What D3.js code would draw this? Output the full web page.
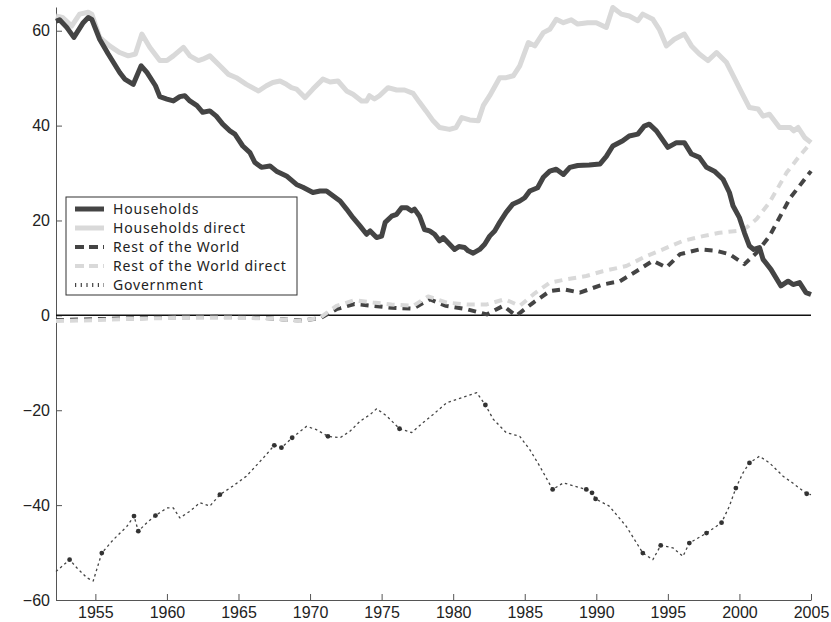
<!DOCTYPE html>
<html>
<head>
<meta charset="utf-8">
<script src="https://cdn.jsdelivr.net/npm/d3@7"></script>
<style>
  body { margin: 0; background: #fff; }
  svg { font-family: "Noto Sans", sans-serif; }
  .axis path, .axis line { stroke: #555; }
  .axis text { font-size: 16px; fill: #222; }
  .legend text { font-size: 14px; fill: #222; letter-spacing: 0.8px; }
</style>
</head>
<body>
<svg id="chart" width="831" height="622"></svg>
<script>
// series as [year, value] pairs
const households = [
  [1952.25, 62.0], [1952.5, 62.3], [1953.0, 60.7], [1953.5, 58.6], [1954.15, 61.7], [1954.5, 62.8],
  [1954.75, 62.4], [1955.3, 58.2], [1955.9, 55.1], [1956.7, 51.2], [1957.05, 49.8], [1957.65, 48.7],
  [1958.2, 52.6], [1958.6, 51.2], [1959.2, 48.4], [1959.5, 46.1], [1960.0, 45.6], [1960.45, 45.2],
  [1960.9, 46.1], [1961.25, 46.3], [1961.6, 45.2], [1962.1, 44.2], [1962.5, 42.8], [1963.0, 43.1],
  [1963.45, 42.0], [1963.9, 40.3], [1964.4, 38.9], [1964.75, 38.2], [1965.3, 35.7], [1965.8, 34.3],
  [1966.15, 32.2], [1966.6, 31.2], [1967.2, 31.5], [1967.65, 30.4], [1968.35, 29.4], [1969.05, 27.6],
  [1969.5, 27.0], [1970.2, 25.9], [1970.7, 26.2], [1971.15, 26.2], [1971.6, 25.2], [1972.1, 24.1],
  [1972.55, 22.4], [1973.0, 20.6], [1973.5, 18.8], [1973.95, 17.1], [1974.2, 17.8], [1974.65, 16.4],
  [1975.0, 16.7], [1975.25, 19.6], [1975.7, 20.9], [1976.05, 21.3], [1976.4, 22.7], [1976.75, 22.7],
  [1977.1, 22.0], [1977.3, 22.4], [1977.65, 20.9], [1978.0, 18.1], [1978.35, 17.8], [1978.7, 17.1],
  [1979.05, 15.7], [1979.3, 16.4], [1979.65, 15.3], [1980.1, 13.9], [1980.4, 14.5], [1980.8, 14.3],
  [1981.05, 13.6], [1981.4, 13.1], [1981.85, 13.9], [1982.2, 15.0], [1982.55, 16.7], [1982.9, 17.8],
  [1983.25, 19.6], [1983.7, 21.7], [1984.15, 23.4], [1984.65, 24.1], [1985.0, 24.8], [1985.35, 26.2],
  [1985.9, 26.9], [1986.3, 29.1], [1986.75, 30.4], [1987.2, 30.8], [1987.7, 29.7], [1988.15, 31.2],
  [1988.7, 31.6], [1989.5, 31.7], [1990.25, 31.9], [1990.7, 33.5], [1991.15, 35.7], [1991.85, 36.8],
  [1992.3, 37.8], [1992.9, 38.2], [1993.35, 39.9], [1993.7, 40.3], [1994.2, 38.9], [1995.0, 35.4],
  [1995.6, 36.4], [1996.15, 36.4], [1996.65, 34.0], [1997.2, 33.3], [1997.7, 31.2], [1998.25, 30.4],
  [1998.85, 28.7], [1999.3, 25.9], [1999.55, 23.1], [2000.0, 20.6], [2000.35, 17.4], [2000.7, 14.6],
  [2001.0, 13.9], [2001.4, 14.3], [2001.65, 11.8], [2002.2, 9.7], [2002.9, 6.2], [2003.4, 7.2],
  [2003.75, 6.5], [2004.2, 6.9], [2004.65, 4.8], [2005.0, 4.4]
];

const householdsDirect = [
  [1952.25, 63.1], [1952.7, 62.8], [1953.35, 61.0], [1953.9, 63.5], [1954.5, 63.9], [1954.75, 63.5],
  [1955.3, 58.6], [1956.0, 56.8], [1956.7, 55.4], [1957.3, 54.7], [1957.8, 55.1], [1958.25, 59.3],
  [1958.8, 56.5], [1959.5, 53.7], [1960.0, 53.7], [1960.45, 54.7], [1961.15, 56.5], [1961.6, 54.7],
  [1962.2, 53.7], [1962.5, 54.0], [1963.0, 54.7], [1963.7, 52.6], [1964.3, 50.8], [1964.85, 50.1],
  [1965.55, 48.7], [1966.4, 47.3], [1966.95, 48.4], [1967.4, 49.1], [1967.9, 49.4], [1968.35, 48.7],
  [1968.7, 48.0], [1969.05, 47.7], [1969.65, 45.9], [1970.2, 47.7], [1970.9, 49.8], [1971.4, 49.2],
  [1971.95, 49.4], [1972.55, 47.3], [1973.0, 46.6], [1973.6, 45.2], [1973.95, 45.2], [1974.15, 46.3],
  [1974.5, 45.6], [1974.85, 46.3], [1975.45, 48.0], [1976.05, 47.5], [1976.6, 47.5], [1977.2, 46.8],
  [1977.65, 44.9], [1978.1, 43.1], [1978.6, 41.0], [1979.05, 39.6], [1979.75, 39.2], [1980.2, 39.6],
  [1980.6, 41.7], [1981.15, 41.2], [1981.75, 41.0], [1982.1, 44.2], [1982.55, 46.3], [1983.25, 50.1],
  [1983.7, 50.1], [1984.2, 50.5], [1984.65, 52.6], [1985.25, 57.5], [1985.7, 56.8], [1986.3, 59.6],
  [1986.75, 60.3], [1987.2, 62.4], [1987.7, 61.7], [1988.25, 62.3], [1988.7, 61.4], [1989.4, 61.7],
  [1990.0, 61.7], [1990.7, 60.7], [1991.15, 64.9], [1991.75, 63.5], [1992.3, 63.1], [1992.9, 62.1],
  [1993.25, 63.5], [1993.95, 62.4], [1994.4, 60.3], [1994.9, 56.8], [1995.45, 58.2], [1996.15, 59.3],
  [1996.65, 56.8], [1997.2, 55.1], [1997.8, 53.7], [1998.4, 55.4], [1999.1, 53.3], [1999.8, 49.1],
  [2000.15, 47.0], [2000.7, 43.8], [2001.3, 43.5], [2001.65, 42.0], [2002.1, 42.4], [2002.8, 39.6],
  [2003.55, 39.6], [2003.8, 38.9], [2004.1, 39.6], [2004.55, 37.5], [2005.0, 36.4]
];

const restOfWorld = [
  [1952.25, -1.0], [1955.0, -0.8], [1958.0, -0.6], [1961.0, -0.4], [1963.5, -0.3], [1966.5, -0.5],
  [1968.0, -0.8], [1969.3, -1.1], [1970.7, -0.6], [1971.85, 1.3], [1973.1, 2.4], [1974.4, 2.0],
  [1975.7, 1.6], [1977.2, 1.4], [1978.35, 3.4], [1979.5, 2.0], [1980.95, 1.3], [1982.35, 0.2],
  [1983.5, 2.0], [1984.4, -0.1], [1985.6, 2.7], [1986.75, 5.1], [1987.7, 5.5], [1988.85, 4.8],
  [1990.45, 6.5], [1991.65, 7.2], [1992.8, 9.3], [1993.95, 11.5], [1994.9, 10.1], [1995.85, 12.9],
  [1997.2, 13.9], [1998.4, 13.6], [1999.3, 12.9], [2000.35, 10.8], [2001.2, 13.2], [2002.1, 16.7],
  [2002.85, 20.9], [2003.55, 24.8], [2004.2, 27.3], [2005.0, 30.4]
];

const restOfWorldDirect = [
  [1952.25, -1.2], [1955.0, -1.0], [1958.0, -0.7], [1961.0, -0.5], [1964.0, -0.5], [1966.5, -0.6],
  [1967.9, -0.8], [1969.3, -1.2], [1970.7, -0.5], [1971.85, 2.0], [1973.1, 3.2], [1974.4, 2.7],
  [1975.7, 2.3], [1977.2, 2.0], [1978.25, 4.0], [1979.55, 2.7], [1980.95, 2.3], [1982.35, 2.3],
  [1983.6, 3.4], [1984.65, 2.0], [1985.6, 4.4], [1986.75, 6.9], [1987.9, 7.6], [1989.3, 8.3],
  [1990.45, 9.3], [1992.1, 10.4], [1993.5, 12.5], [1994.65, 13.9], [1996.05, 15.7], [1997.45, 16.7],
  [1998.6, 17.4], [1999.8, 17.8], [2000.5, 18.5], [2001.2, 20.3], [2002.1, 23.8], [2003.3, 30.1],
  [2004.2, 33.6], [2005.0, 36.4]
];

const government = [
  [1952.25, -54.0], [1952.4, -53.6], [1953.2, -51.5], [1953.7, -53.2], [1954.4, -55.3], [1954.85, -56.0],
  [1955.45, -50.1], [1956.25, -47.3], [1957.2, -44.5], [1957.7, -42.3], [1958.0, -45.5], [1958.6, -43.7],
  [1959.2, -42.2], [1960.0, -40.6], [1960.45, -40.6], [1960.9, -42.7], [1961.6, -41.3], [1962.3, -39.5],
  [1963.0, -40.2], [1963.7, -37.8], [1964.6, -36.0], [1965.55, -33.9], [1966.75, -30.0], [1967.5, -27.4],
  [1968.0, -27.9], [1968.75, -25.8], [1969.75, -23.4], [1970.45, -24.1], [1971.25, -25.5], [1972.1, -25.8],
  [1972.8, -24.4], [1973.5, -22.3], [1974.2, -20.9], [1974.65, -19.7], [1975.35, -21.2], [1976.25, -23.9],
  [1977.1, -24.7], [1977.9, -22.6], [1978.6, -20.9], [1979.55, -18.4], [1980.25, -17.7], [1980.95, -17.0],
  [1981.65, -16.3], [1982.25, -18.9], [1982.8, -21.9], [1983.7, -24.7], [1984.65, -25.5], [1985.35, -28.3],
  [1986.05, -31.8], [1986.95, -36.7], [1987.7, -35.3], [1988.15, -35.7], [1989.3, -36.7], [1989.7, -37.4],
  [1989.95, -38.7], [1990.9, -40.2], [1992.1, -44.5], [1993.25, -50.1], [1993.95, -51.5], [1994.5, -48.5],
  [1995.35, -49.0], [1996.05, -50.8], [1996.5, -48.0], [1997.7, -45.9], [1998.75, -43.7], [1999.3, -40.2],
  [1999.75, -36.4], [2000.25, -33.2], [2000.7, -31.1], [2001.4, -29.7], [2002.1, -31.1], [2003.05, -33.9],
  [2003.7, -35.3], [2004.7, -37.6], [2005.0, -37.8]
];

// years where the dotted government line shows a heavy dot
const govDotYears = [1953.2, 1955.45, 1957.7, 1958.0, 1959.2, 1963.7, 1967.5, 1968.0, 1968.75, 1971.25,
  1976.25, 1982.25, 1986.95, 1989.3, 1989.7, 1989.95, 1993.25, 1994.5, 1996.5, 1997.7, 1998.75,
  1999.75, 2000.7, 2004.7];

const xTicks = [1955, 1960, 1965, 1970, 1975, 1980, 1985, 1990, 1995, 2000, 2005];
const yTicks = [-60, -40, -20, 0, 20, 40, 60];

const margin = { top: 7, left: 56, right: 20, bottom: 22 };
const width = 831 - margin.left - margin.right;
const height = 622 - margin.top - margin.bottom;

const svg = d3.select("#chart");
const g = svg.append("g").attr("transform", `translate(${margin.left},${margin.top})`);

const x = d3.scaleLinear().domain([1952.25, 2005]).range([0, width]);
const y = d3.scaleLinear().domain([-60, 65]).range([height, 0]);

const line = d3.line().x((d) => x(d[0])).y((d) => y(d[1]));

// axes, ticks pointing inward
g.append("g")
  .attr("class", "axis")
  .attr("transform", `translate(0,${height})`)
  .call(d3.axisBottom(x).tickValues(xTicks).tickFormat(d3.format("d")).tickSizeInner(-6).tickSizeOuter(0).tickPadding(7));

g.append("g")
  .attr("class", "axis")
  .call(d3.axisLeft(y).tickValues(yTicks).tickSizeInner(-6).tickSizeOuter(0).tickPadding(6));

// zero line
g.append("line")
  .attr("x1", x(1952.25)).attr("x2", x(2005))
  .attr("y1", y(0)).attr("y2", y(0))
  .attr("stroke", "#111").attr("stroke-width", 1.5);

const series = [
  { name: "Rest of the World", data: restOfWorld, color: "#444", width: 4, dash: "8,6" },
  { name: "Rest of the World direct", data: restOfWorldDirect, color: "#d9d9d9", width: 4, dash: "8,6" },
  { name: "Households direct", data: householdsDirect, color: "#d9d9d9", width: 5, dash: null },
  { name: "Households", data: households, color: "#444", width: 5, dash: null },
  { name: "Government", data: government, color: "#444", width: 1.3, dash: "2.5,3" }
];

series.forEach((s) => {
  g.append("path")
    .datum(s.data)
    .attr("d", line)
    .attr("fill", "none")
    .attr("stroke", s.color)
    .attr("stroke-width", s.width)
    .attr("stroke-linejoin", "round")
    .attr("stroke-dasharray", s.dash);
});

// heavy dots along the government line
g.selectAll(".govdot")
  .data(government.filter((d) => govDotYears.includes(d[0])))
  .enter()
  .append("circle")
  .attr("class", "govdot")
  .attr("cx", (d) => x(d[0]))
  .attr("cy", (d) => y(d[1]))
  .attr("r", 2.4)
  .attr("fill", "#333");

// legend
const legendOrder = ["Households", "Households direct", "Rest of the World", "Rest of the World direct", "Government"];
const legend = svg.append("g").attr("class", "legend").attr("transform", "translate(66,197)");
legend.append("rect")
  .attr("width", 231).attr("height", 98)
  .attr("fill", "#fff").attr("stroke", "#333").attr("stroke-width", 1);

legendOrder.forEach((name, i) => {
  const s = series.find((d) => d.name === name);
  const ly = 12 + i * 19;
  legend.append("line")
    .attr("x1", 9).attr("x2", 38)
    .attr("y1", ly).attr("y2", ly)
    .attr("stroke", s.color)
    .attr("stroke-width", name === "Government" ? 4 : s.width)
    .attr("stroke-dasharray", name === "Government" ? "1.2,4.5" : (s.dash ? "9,5" : null));
  legend.append("text")
    .attr("x", 47).attr("y", ly)
    .attr("dy", "0.35em")
    .text(name);
});
</script>
</body>
</html>
